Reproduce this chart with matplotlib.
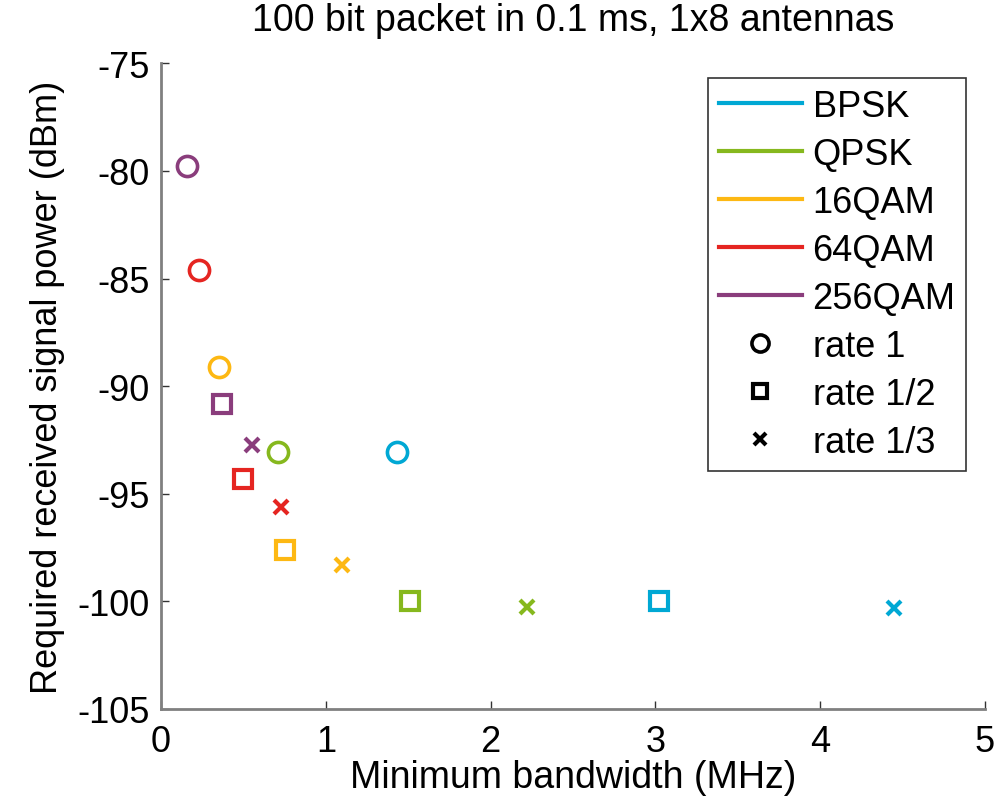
import matplotlib
matplotlib.use("Agg")
import matplotlib.pyplot as plt
from matplotlib.lines import Line2D

plt.rcParams['font.family'] = ['Liberation Sans', 'DejaVu Sans']
plt.rcParams['axes.unicode_minus'] = False

modulations = ["BPSK", "QPSK", "16QAM", "64QAM", "256QAM"]
colors = ["#00A8D4", "#86B81E", "#FDB813", "#E52521", "#8A3D7C"]
rates = ["rate 1", "rate 1/2", "rate 1/3"]
markers = ["o", "s", "x"]

# bandwidth (MHz) per modulation for rate 1, 1/2, 1/3
bw_rate1 = [1.43, 0.71, 0.35, 0.23, 0.16]
bw_rate12 = [3.02, 1.51, 0.75, 0.50, 0.37]
bw_rate13 = [4.45, 2.22, 1.10, 0.73, 0.55]
# required power (dBm)
p_rate1 = [-93.05, -93.05, -89.1, -84.6, -79.75]
p_rate12 = [-100.0, -100.0, -97.6, -94.3, -90.85]
p_rate13 = [-100.3, -100.25, -98.3, -95.6, -92.75]

bws = [bw_rate1, bw_rate12, bw_rate13]
ps = [p_rate1, p_rate12, p_rate13]
msizes = [14.5, 12.5, 9.5]
mews = [2.6, 3.0, 3.0]

fig = plt.figure(figsize=(10.07, 8.04), dpi=100)
ax = fig.add_axes([0.160, 0.117, 0.818, 0.803])

for ri in range(3):
    for mi in range(5):
        ax.plot(bws[ri][mi], ps[ri][mi], linestyle='none', marker=markers[ri],
                markersize=msizes[ri], markerfacecolor='none',
                markeredgecolor=colors[mi], markeredgewidth=mews[ri])

ax.set_xlim(0, 5)
ax.set_ylim(-105, -75)
ax.set_xticks([0, 1, 2, 3, 4, 5])
ax.set_yticks([-105, -100, -95, -90, -85, -80, -75])
ax.tick_params(direction='in', labelsize=26, length=6, width=1, color='#333333')
ax.tick_params(axis='x', pad=11)
ax.tick_params(axis='y', pad=8)
for s in ['top', 'right']:
    ax.spines[s].set_visible(False)
for s in ['left', 'bottom']:
    ax.spines[s].set_color('#808080')
    ax.spines[s].set_linewidth(2)

ax.set_xlabel("Minimum bandwidth (MHz)", fontsize=27, labelpad=0)
ax.set_ylabel("Required received signal power (dBm)", fontsize=26, labelpad=9)
ax.set_title("100 bit packet in 0.1 ms, 1x8 antennas", fontsize=27, pad=24)

handles = [Line2D([], [], color=c, lw=3) for c in colors]
handles += [Line2D([], [], linestyle='none', marker=m, color='black',
                   markerfacecolor='none', markersize=s * 0.85, markeredgewidth=w)
            for m, s, w in zip(markers, msizes, mews)]
leg = ax.legend(handles, modulations + rates, loc='upper right',
                bbox_to_anchor=(0.9995, 1.005), fontsize=26, frameon=True,
                fancybox=False, edgecolor='black', handlelength=2.3,
                handletextpad=0.3, labelspacing=0.36, borderpad=0.3)
leg.get_frame().set_linewidth(1.2)

fig.savefig("out.png", dpi=100)
